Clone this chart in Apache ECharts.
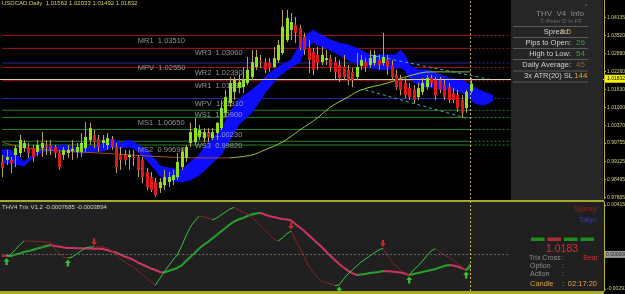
<!DOCTYPE html>
<html><head><meta charset="utf-8">
<script src="https://cdn.jsdelivr.net/npm/echarts@6/dist/echarts.min.js"></script>
<style>html,body{margin:0;padding:0;background:#000;overflow:hidden}#c{width:625px;height:294px}</style>
</head><body><div id="c"></div>
<script>
// ---------- DATA ----------
const symbolName = 'USDCAD';
const timeframe = 'Daily';
const barCount = 138; // 108 drawn bars + chart shift
const open  = [0.9910,0.9917,0.9917,0.9934,0.9941,0.9958,0.9962,0.9958,0.9945,0.9958,0.9969,0.9969,0.9962,0.9941,0.9934,0.9941,0.9948,0.9945,0.9945,0.9958,0.9986,1.0004,0.9990,0.9976,0.9969,0.9990,0.9962,0.9934,0.9934,0.9927,0.9927,0.9927,0.9917,0.9875,0.9857,0.9840,0.9819,0.9829,0.9840,0.9847,0.9857,0.9892,0.9924,0.9976,0.9979,0.9997,0.9993,1.0011,0.9993,1.0011,1.0028,1.0081,1.0115,1.0154,1.0168,1.0171,1.0185,1.0206,1.0241,1.0262,1.0258,1.0255,1.0241,1.0265,1.0290,1.0335,1.0370,1.0388,1.0377,1.0346,1.0307,1.0293,1.0283,1.0258,1.0265,1.0272,1.0258,1.0248,1.0241,1.0231,1.0224,1.0206,1.0245,1.0258,1.0248,1.0255,1.0265,1.0255,1.0265,1.0248,1.0213,1.0196,1.0185,1.0168,1.0161,1.0136,1.0154,1.0171,1.0203,1.0196,1.0196,1.0178,1.0171,1.0150,1.0143,1.0126,1.0098,1.01562];
const close = [0.9889,0.9927,0.9906,0.9958,0.9986,0.9976,0.9941,0.9927,0.9969,0.9976,0.9962,0.9955,0.9941,0.9892,0.9952,0.9952,0.9955,0.9962,0.9976,0.9997,1.0028,0.9979,0.9962,0.9986,0.9993,0.9962,0.9892,0.9917,0.9917,0.9934,0.9924,0.9882,0.9857,0.9822,0.9812,0.9795,0.9840,0.9857,0.9857,0.9864,0.9910,0.9945,0.9962,1.0014,1.0028,1.0021,1.0014,0.9997,1.0014,1.0046,1.0098,1.0136,1.0185,1.0196,1.0189,1.0196,1.0231,1.0258,1.0276,1.0258,1.0231,1.0238,1.0272,1.0318,1.0381,1.0412,1.0398,1.0360,1.0307,1.0300,1.0265,1.0231,1.0255,1.0283,1.0272,1.0241,1.0224,1.0203,1.0206,1.0196,1.0196,1.0241,1.0265,1.0241,1.0272,1.0283,1.0248,1.0276,1.0241,1.0206,1.0171,1.0161,1.0143,1.0136,1.0126,1.0168,1.0185,1.0203,1.0185,1.0143,1.0161,1.0136,1.0126,1.0126,1.0098,1.0081,1.0154,1.01832];
const low   = [0.9857,0.9899,0.9871,0.9892,0.9927,0.9945,0.9924,0.9910,0.9931,0.9927,0.9934,0.9934,0.9924,0.9882,0.9917,0.9924,0.9917,0.9924,0.9927,0.9945,0.9969,0.9958,0.9945,0.9958,0.9952,0.9952,0.9871,0.9882,0.9899,0.9882,0.9896,0.9857,0.9836,0.9812,0.9805,0.9788,0.9802,0.9812,0.9822,0.9829,0.9847,0.9882,0.9910,0.9962,0.9969,0.9986,0.9979,0.9979,0.9986,0.9986,1.0021,1.0067,1.0101,1.0126,1.0150,1.0150,1.0178,1.0196,1.0231,1.0238,1.0220,1.0224,1.0238,1.0255,1.0283,1.0328,1.0335,1.0325,1.0300,1.0283,1.0220,1.0213,1.0231,1.0248,1.0248,1.0224,1.0196,1.0189,1.0196,1.0178,1.0171,1.0196,1.0231,1.0224,1.0238,1.0245,1.0231,1.0245,1.0213,1.0196,1.0161,1.0143,1.0133,1.0126,1.0115,1.0126,1.0143,1.0161,1.0171,1.0126,1.0150,1.0126,1.0115,1.0115,1.0084,1.0063,1.0081,1.01492];
const high  = [0.9934,0.9952,0.9927,0.9969,1.0004,0.9986,0.9976,0.9969,0.9986,1.0014,0.9986,0.9986,0.9969,0.9952,0.9962,0.9969,0.9986,0.9976,1.0011,1.0049,1.0046,1.0021,1.0004,1.0004,1.0011,1.0000,0.9976,0.9962,0.9952,0.9952,0.9952,0.9934,0.9927,0.9889,0.9875,0.9854,0.9854,0.9882,0.9875,0.9882,0.9941,0.9958,0.9969,1.0046,1.0063,1.0039,1.0028,1.0028,1.0028,1.0049,1.0126,1.0161,1.0206,1.0206,1.0213,1.0241,1.0276,1.0300,1.0300,1.0283,1.0272,1.0272,1.0311,1.0335,1.0440,1.0440,1.0429,1.0415,1.0388,1.0360,1.0335,1.0307,1.0311,1.0311,1.0300,1.0283,1.0276,1.0265,1.0283,1.0248,1.0238,1.0290,1.0283,1.0272,1.0300,1.0300,1.0283,1.0360,1.0283,1.0265,1.0231,1.0213,1.0203,1.0185,1.0178,1.0185,1.0203,1.0213,1.0213,1.0206,1.0206,1.0196,1.0185,1.0168,1.0161,1.0143,1.0161,1.02033];

// moving average, read at key bars
const maIdx = [0,6,22,47,52,57,60,64,68,72,75,79,82,88,93,98,107];
const maVal = [0.9979,0.9958,0.9941,0.9924,0.9924,0.9934,0.9952,0.9979,1.0021,1.0063,1.0101,1.0136,1.0161,1.0185,1.0210,1.0224,1.0224];
const maSplit = 4; // position in maIdx where the line turns from falling to rising

// blue band
const cloudIdx    = [0,2,5,7,9,14,18,22,24,25,27,29,30,33,35,36,38,41,43,45,47,50,52,54,57,59,60,63,66,68,69,71,72,75,77,79,82,84,87,90,91,92,93,95,97,102,105,108,110,112];
const cloudTop    = [0.9952,0.9952,0.9910,0.9934,0.9958,0.9969,0.9958,0.9969,0.9986,0.9990,0.9976,0.9986,0.9979,0.9952,0.9917,0.9896,0.9889,0.9882,0.9910,0.9934,0.9976,1.0021,1.0081,1.0126,1.0161,1.0185,1.0206,1.0241,1.0265,1.0318,1.0346,1.0370,1.0360,1.0335,1.0325,1.0318,1.0300,1.0283,1.0283,1.0283,1.0300,1.0283,1.0248,1.0231,1.0231,1.0203,1.0196,1.0168,1.0154,1.0143];
const cloudBottom = [0.9906,0.9906,0.9896,0.9924,0.9945,0.9952,0.9941,0.9945,0.9952,0.9962,0.9958,0.9962,0.9958,0.9917,0.9882,0.9861,0.9847,0.9840,0.9847,0.9864,0.9892,0.9934,0.9986,1.0039,1.0081,1.0126,1.0150,1.0206,1.0241,1.0258,1.0300,1.0328,1.0318,1.0300,1.0283,1.0265,1.0248,1.0238,1.0231,1.0238,1.0238,1.0231,1.0203,1.0178,1.0171,1.0161,1.0154,1.0115,1.0108,1.0122];

// pivot levels
const pivotNames  = ['MR1','WR3','MPV','WR2','WR1','WPV','WS1','MS1','WS2','WS3','MS2'];
const pivotValues = [1.03510,1.03060,1.02550,1.02390,1.01930,1.01310,1.00900,1.00650,1.00230,0.99820,0.99690];
const bidPrice = 1.01832;

// trend lines [barIndex, price]
const trendUpper = [[84,1.0283],[112,1.0196]];
const trendLower = [[83,1.0161],[106,1.0063]];

const priceTicks = [0.97865,0.98495,0.99125,0.99755,1.00370,1.01000,1.01630,1.02260,1.02890,1.03520,1.04135];

// Trix indicator
const trixFast = [-0.00009,-0.00018,0.00001,0.00040,0.00079,0.00113,0.00112,0.00110,0.00108,0.00106,0.00104,0.00102,0.00045,0.00012,-0.00022,-0.00030,-0.00022,0.00003,0.00029,0.00054,0.00062,0.00063,0.00062,0.00061,0.00054,0.00029,-0.00005,-0.00039,-0.00064,-0.00089,-0.00106,-0.00140,-0.00169,-0.00199,-0.00232,-0.00258,-0.00203,-0.00148,-0.00098,-0.00047,-0.00005,0.00071,0.00155,0.00231,0.00281,0.00323,0.00319,0.00306,0.00290,0.00306,0.00332,0.00357,0.00382,0.00395,0.00374,0.00357,0.00340,0.00315,0.00281,0.00239,0.00205,0.00172,0.00130,0.00113,0.00138,0.00172,0.00197,0.00121,0.00054,-0.00022,-0.00098,-0.00148,-0.00190,-0.00224,-0.00237,-0.00249,-0.00262,-0.00258,-0.00207,-0.00165,-0.00131,-0.00098,-0.00064,-0.00039,-0.00013,0.00012,0.00037,0.00050,-0.00005,-0.00056,-0.00098,-0.00131,-0.00152,-0.00173,-0.00131,-0.00098,-0.00056,-0.00013,0.00029,0.00050,0.00020,-0.00005,-0.00022,-0.00047,-0.00077,-0.00106,-0.00131,-0.00077];
const trixSlow = [-0.00013,-0.00014,-0.00014,-0.00001,0.00008,0.00020,0.00029,0.00037,0.00050,0.00058,0.00071,0.00079,0.00071,0.00067,0.00058,0.00054,0.00053,0.00052,0.00051,0.00050,0.00049,0.00048,0.00047,0.00045,0.00037,0.00024,0.00016,-0.00001,-0.00018,-0.00030,-0.00047,-0.00068,-0.00085,-0.00102,-0.00119,-0.00131,-0.00148,-0.00152,-0.00140,-0.00127,-0.00114,-0.00093,-0.00056,-0.00022,0.00012,0.00050,0.00079,0.00104,0.00134,0.00163,0.00193,0.00222,0.00252,0.00277,0.00294,0.00306,0.00323,0.00336,0.00344,0.00349,0.00336,0.00323,0.00315,0.00306,0.00298,0.00294,0.00285,0.00256,0.00226,0.00197,0.00163,0.00130,0.00096,0.00062,0.00024,-0.00013,-0.00047,-0.00081,-0.00110,-0.00136,-0.00157,-0.00173,-0.00169,-0.00165,-0.00157,-0.00152,-0.00148,-0.00140,-0.00141,-0.00144,-0.00148,-0.00152,-0.00161,-0.00173,-0.00165,-0.00157,-0.00148,-0.00140,-0.00131,-0.00123,-0.00110,-0.00098,-0.00089,-0.00093,-0.00102,-0.00114,-0.00131,-0.00106];
const trixHeader = [-0.0007685, -0.0003894];
const trixTicks = [0.004156, -0.002915];
const trixUpArrows = [1,15,77,93,106];
const trixDownArrows = [21,66,87];

const infoRows = [['Pips to Open:','26'],['High to Low:','54'],['Daily Average:','45'],['3x ATR(20) SL','144']];
const spreadValue = '2.0';
const sessions = ['Sydney','Tokyo'];
const signalBoxes = ['up','down','up','up'];
const trixCross = 'Bear';
const candleTimer = '02:17:20';

// ---------- CHART ----------
const FONT = '"Liberation Sans", Arial, sans-serif';
const categories = [];
for (let i = 0; i < barCount; i++) categories.push('b' + i);
const last = open.length - 1;
const rightEdge = barCount - 1;

const C = {
  bull: '#8ee21c', bear: '#e01818', wick: '#c0a44c',
  res: '#a01818', piv: '#2a2aa0', sup: '#208420',
  axis: '#b4b43c', axisTxt: '#d4d47c'
};
function pivotColor(n){ return n.indexOf('PV') >= 0 ? C.piv : (n.indexOf('R') >= 0 ? C.res : C.sup); }

function slopePieces(arr, up, down){
  const p = [];
  for (let i = 0; i < arr.length - 1; i++) {
    const col = arr[i+1] >= arr[i] ? up : down;
    const piece = {gte: i, color: col};
    if (i === arr.length - 2) piece.lte = i + 1; else piece.lt = i + 1;
    p.push(piece);
  }
  return p;
}

const pivotLabelData = pivotValues.map((v, k) => [pivotNames[k].charAt(0) === 'M' ? 31 : 44, v, pivotNames[k] + '  ' + v.toFixed(5)]);

const chart = echarts.init(document.getElementById('c'), null, {renderer:'canvas'});
const fmt5 = v => v.toFixed(5);

const series = [
    // 0 markers holder (bid line + vertical)
    {type:'line', xAxisIndex:0, yAxisIndex:0, z:1, data:[[0, bidPrice]], showSymbol:false, lineStyle:{opacity:0}, silent:true,
      markLine:{silent:true, symbol:['none','none'], animation:false, label:{show:false},
        data: [
          {yAxis: bidPrice, lineStyle:{color:'#d8d0b4', width:1, type:'solid', opacity:1},
            label:{show:true, position:'end', distance:1, formatter: fmt5(bidPrice), backgroundColor:'#f4f400', color:'#000', fontSize:5, padding:[2,2,1,2], fontFamily:FONT}},
          {xAxis: last, lineStyle:{color:'#c8b45a', width:1, type:[2,2], opacity:1}}
        ]}},
    // 1 cloud
    {type:'custom', xAxisIndex:0, yAxisIndex:0, z:2, silent:true, data:[[0, cloudTop[0]]], encode:{x:0, y:1},
      renderItem:(params, api) => {
        const t = cloudIdx.map((ix,k) => api.coord([ix, cloudTop[k]]));
        const b = cloudIdx.map((ix,k) => api.coord([ix, cloudBottom[k]])).reverse();
        return {type:'polygon', shape:{points:t.concat(b)}, style:{fill:'#0c0cff', stroke:'#0c0cff', lineWidth:1}};
      }},
    // 2 MA falling part
    {type:'line', xAxisIndex:0, yAxisIndex:0, z:3, smooth:0.4, showSymbol:false, silent:true,
      data: maIdx.slice(0, maSplit+1).map((ix,k)=>[ix, maVal[k]]), lineStyle:{color:'#a0502a', width:1}},
    // 3 MA rising part
    {type:'line', xAxisIndex:0, yAxisIndex:0, z:3, smooth:0.4, showSymbol:false, silent:true,
      data: maIdx.slice(maSplit).map((ix,k)=>[ix, maVal[k+maSplit]]), lineStyle:{color:'#9acd32', width:1}},
    // 4 pivot labels
    {type:'scatter', xAxisIndex:0, yAxisIndex:0, z:3, symbolSize:0, silent:true, data:pivotLabelData,
      label:{show:true, position:'right', distance:0, offset:[0,5], formatter:p=>p.data[2], color:'#b8b8b8', fontSize:7.5, fontFamily:FONT}},
    // 5,6 trend lines
    {type:'line', xAxisIndex:0, yAxisIndex:0, z:4, showSymbol:false, silent:true, data:trendUpper, lineStyle:{color:'#3cb4c4', width:1, type:[3,3]}},
    {type:'line', xAxisIndex:0, yAxisIndex:0, z:4, showSymbol:false, silent:true, data:trendLower, lineStyle:{color:'#3cb4c4', width:1, type:[3,3]}},
    // 7 Trix slow (thick)
    {type:'line', xAxisIndex:1, yAxisIndex:1, z:3, showSymbol:false, silent:true, data:trixSlow, lineStyle:{width:2},
      markLine:{silent:true, symbol:['none','none'], animation:false, label:{show:false},
        data:[
          [{coord:[0,0], lineStyle:{color:'#6a6a6a', width:1, type:[2,2]}}, {coord:[116,0]}],
          {yAxis:0, lineStyle:{color:'rgba(0,0,0,0)', width:1}, label:{show:true, position:'end', distance:1, formatter:'0.000000', backgroundColor:'#9a9a9a', color:'#222', fontSize:5, padding:[1,1], fontFamily:FONT}},
          {xAxis: last, lineStyle:{color:'#c8b45a', width:1, type:[2,2]}}
        ]}},
    // 8 Trix fast (thin)
    {type:'line', xAxisIndex:1, yAxisIndex:1, z:4, showSymbol:false, silent:true, data:trixFast, lineStyle:{width:1}},
    // 9 up arrows
    {type:'scatter', xAxisIndex:1, yAxisIndex:1, z:6, silent:true,
      symbol:'path://M4,0 L8,4 L5.5,4 L5.5,8 L2.5,8 L2.5,4 L0,4 Z', symbolSize:[6,7], symbolOffset:[0,5],
      itemStyle:{color:'#3ce83c'}, data: trixUpArrows.map(i=>[i, trixFast[i]])},
    // 10 down arrows
    {type:'scatter', xAxisIndex:1, yAxisIndex:1, z:6, silent:true,
      symbol:'path://M4,0 L8,4 L5.5,4 L5.5,8 L2.5,8 L2.5,4 L0,4 Z', symbolSize:[6,7], symbolRotate:180, symbolOffset:[0,-5],
      itemStyle:{color:'#e83030'}, data: trixDownArrows.map(i=>[i, trixFast[i]])},
    // 11 candles
    {type:'custom', xAxisIndex:0, yAxisIndex:0, z:5, silent:true,
      data: open.map((o,i)=>[i, o, close[i], low[i], high[i]]), encode:{x:0, y:[1,2,3,4]},
      renderItem:(params, api) => {
        const i = api.value(0), o = api.value(1), c = api.value(2), l = api.value(3), h = api.value(4);
        const pO = api.coord([i,o]), pC = api.coord([i,c]), pL = api.coord([i,l]), pH = api.coord([i,h]);
        const x = Math.round(pO[0]) + 0.5;
        const top = Math.min(pO[1], pC[1]);
        const bh = Math.max(1, Math.abs(pO[1]-pC[1]));
        return {type:'group', children:[
          {type:'line', shape:{x1:x, y1:pH[1], x2:x, y2:pL[1]}, style:{stroke:C.wick, lineWidth:1}},
          {type:'rect', shape:{x:x-1.5, y:top, width:3, height:bh}, style:{fill: c >= o ? C.bull : C.bear}}
        ]};
      }}
];

// pivot lines as plain line series: solid up to the current bar, dotted after it
pivotValues.forEach((v, k) => {
  const col = pivotColor(pivotNames[k]);
  series.push({type:'line', xAxisIndex:0, yAxisIndex:0, z:1, showSymbol:false, silent:true,
    data:[[0, v], [last, v]], lineStyle:{color: col, width:1, type:'solid'}});
  series.push({type:'line', xAxisIndex:0, yAxisIndex:0, z:1, showSymbol:false, silent:true,
    data:[[last, v], [rightEdge, v]], lineStyle:{color: col, width:1, type:[2,2]}});
});

const option = {
  animation: false,
  backgroundColor: '#000',
  textStyle: {fontFamily: FONT},
  grid: [
    {left:0, right:21, top:0, height:199, show:true, backgroundColor:'#000', borderWidth:0, containLabel:false, outerBoundsMode:'none'},
    {left:0, right:21, top:202, height:89, show:true, backgroundColor:'#202020', borderWidth:0, containLabel:false, outerBoundsMode:'none'}
  ],
  xAxis: [
    {type:'category', gridIndex:0, data:categories, boundaryGap:true, show:false},
    {type:'category', gridIndex:1, data:categories, boundaryGap:true, show:false}
  ],
  yAxis: [
    {type:'value', gridIndex:0, position:'right', min:0.97806, max:1.04747, splitLine:{show:false},
      axisLine:{show:true, lineStyle:{color:C.axis, width:1}},
      axisTick:{show:true, length:2, customValues:priceTicks, lineStyle:{color:C.axis}},
      axisLabel:{show:true, customValues:priceTicks, formatter:fmt5, color:C.axisTxt, fontSize:5, margin:3, fontFamily:FONT}},
    {type:'value', gridIndex:1, position:'right', min:-0.00308, max:0.00441, splitLine:{show:false},
      axisLine:{show:true, lineStyle:{color:C.axis, width:1}},
      axisTick:{show:true, length:2, customValues:trixTicks, lineStyle:{color:C.axis}},
      axisLabel:{show:true, customValues:trixTicks, formatter:v=>v.toFixed(6), color:C.axisTxt, fontSize:5, margin:3, fontFamily:FONT}}
  ],
  visualMap: [
    {type:'piecewise', show:false, dimension:0, seriesIndex:7, pieces: slopePieces(trixSlow, '#2a9e2a', '#cc3460')},
    {type:'piecewise', show:false, dimension:0, seriesIndex:8, pieces: slopePieces(trixFast, '#3cc43c', '#8c2020')}
  ],
  series: series,
  graphic: []
};

// ---- overlays (text panels) ----
const g = [];
function txt(x, y, s, fill, size, align, weight){
  g.push({type:'text', x:x, y:y, z:100, silent:true,
    style:{text:s, fill:fill, font:(weight||'normal') + ' ' + size + 'px ' + FONT, align:align||'left', verticalAlign:'middle', textAlign:align||'left', textVerticalAlign:'middle'}});
}
g.push({type:'rect', z:99, silent:true, shape:{x:511, y:0, width:92, height:200}, style:{fill:'#262626'}});
g.push({type:'rect', z:99, silent:true, shape:{x:0, y:200, width:604, height:2}, style:{fill:'#a8a82a'}});
g.push({type:'rect', z:99, silent:true, shape:{x:0, y:291, width:604, height:3}, style:{fill:'#a8a82a'}});

txt(2, 3.5, symbolName + ',' + timeframe + '  ' + fmt5(open[last]) + ' ' + fmt5(high[last]) + ' ' + fmt5(low[last]) + ' ' + fmt5(close[last]), '#d4d45a', 6);
txt(2, 207, 'THV4 Trix V1.2 ' + trixHeader[0].toFixed(7) + ' ' + trixHeader[1].toFixed(7), '#d4d4b8', 6);

txt(560, 14, 'THV  V4  Info', '#8c8c8c', 8, 'center');
txt(561, 21, '\u00a9 Peter D in FF', '#6c6c6c', 6, 'center');
txt(586, 6, '\u00b0', '#8c8c8c', 6, 'center');
[26, 37, 48, 59, 70.5, 81.5].forEach(y => g.push({type:'line', z:100, silent:true, shape:{x1:513, y1:y+0.5, x2:588, y2:y+0.5}, style:{stroke:'#5a5a5a', lineWidth:1}}));
txt(557, 32, 'Spread:', '#d0d0d0', 7.5, 'center');
txt(560, 32, spreadValue, '#c89030', 8, 'left');
const valColors = ['#3c9c3c', '#3c9c3c', '#a8582c', '#d8a040'];
infoRows.forEach((r, k) => {
  const y = 42.5 + k * 11;
  txt(k === 3 ? 573 : 571, y, r[0], '#d0d0d0', 7.5, 'right');
  txt(k === 3 ? 574 : 576, y, r[1], valColors[k], 8, 'left');
});

txt(597, 209, sessions[0], '#8c2424', 7, 'right');
txt(597, 220, sessions[1], '#3c3cc4', 7, 'right');
signalBoxes.forEach((s, k) => g.push({type:'rect', z:100, silent:true, shape:{x:531 + k*16.5, y:237.5, width:13.5, height:3.5}, style:{fill: s === 'up' ? '#1e8c1e' : '#a83030'}}));
txt(562, 249.5, close[last].toFixed(4), '#e02828', 10.5, 'center');
txt(529, 258, 'Trix Cross', '#8c8c8c', 7, 'left');
txt(563, 258, ':', '#8c8c8c', 7, 'center');
txt(598, 258, trixCross, '#c83232', 7, 'right');
txt(530, 266, 'Option', '#8c8c8c', 7, 'left');
txt(563, 266, ':', '#8c8c8c', 7, 'center');
txt(530, 274.5, 'Action', '#8c8c8c', 7, 'left');
txt(563, 274.5, ':', '#8c8c8c', 7, 'center');
txt(530, 284, 'Candle', '#e0a040', 7.5, 'left');
txt(563, 284, ':', '#e0a040', 7.5, 'center');
txt(597, 284, candleTimer, '#e0a040', 7.5, 'right');

option.graphic = g;
chart.setOption(option);
</script></body></html>
